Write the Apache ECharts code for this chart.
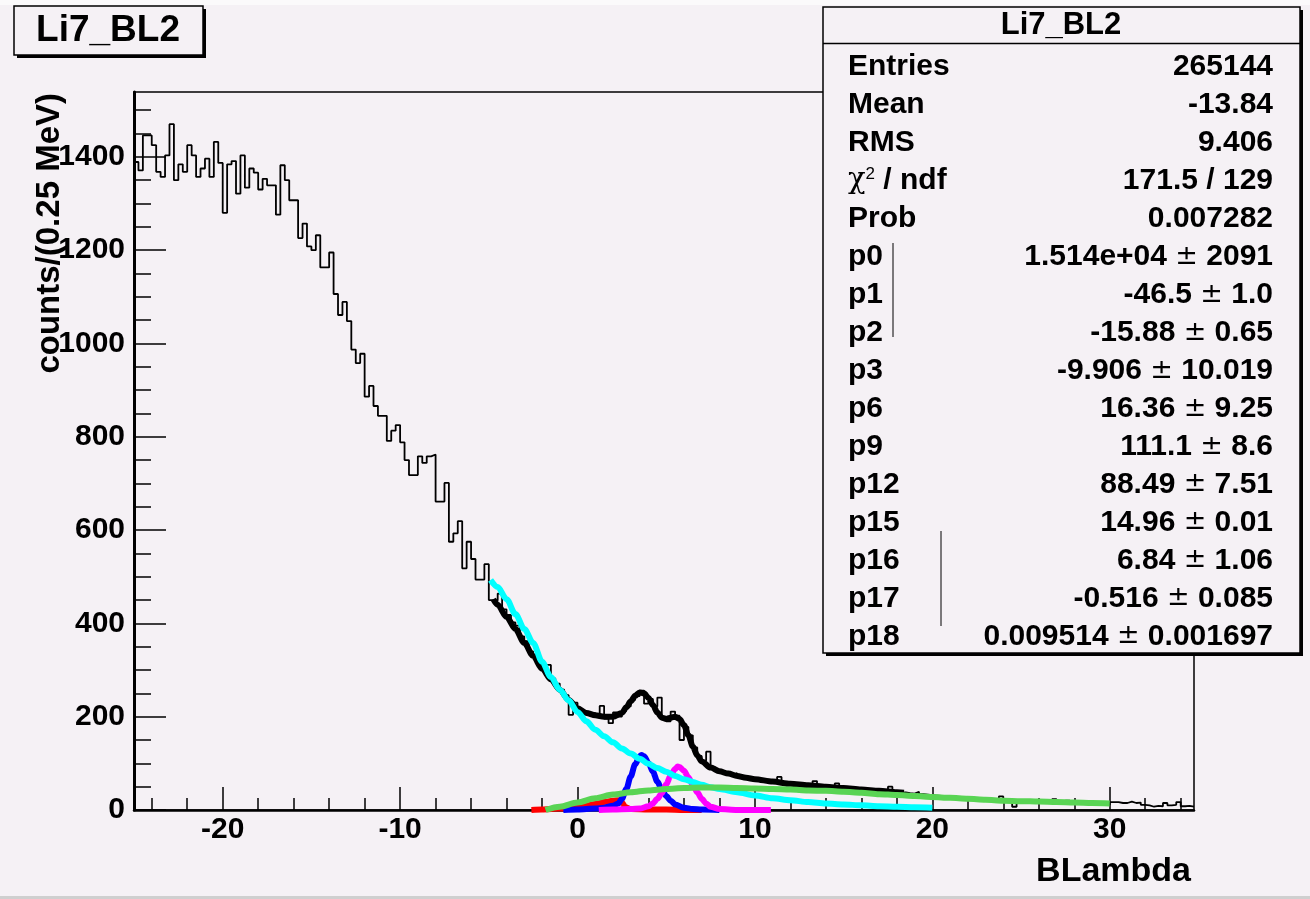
<!DOCTYPE html>
<html>
<head>
<meta charset="utf-8">
<script src="https://cdn.jsdelivr.net/npm/echarts@6.0.0/dist/echarts.min.js"></script>
<style>
  html, body { margin: 0; padding: 0; background: #f5f1f5; }
  #main { width: 1310px; height: 899px; }
</style>
</head>
<body>
<div id="main"></div>
<script>
// Li7_BL2 histogram, 0.25 MeV bins from -25 to 34.75
const binStart = -25;
const binWidth = 0.25;
const histCounts = [
  1389, 1371, 1446, 1446, 1425, 1368, 1357, 1403, 1470, 1350,
  1384, 1368, 1425, 1403, 1357, 1375, 1396, 1357, 1432, 1387,
  1280, 1384, 1391, 1321, 1403, 1334, 1375, 1366, 1330, 1353,
  1339, 1339, 1276, 1382, 1350, 1307, 1307, 1226, 1257, 1208,
  1200, 1232, 1163, 1163, 1195, 1106, 1061, 1089, 1048, 987,
  958, 978, 886, 909, 866, 845, 845, 791, 813, 825,
  788, 750, 718, 718, 758, 744, 758, 762, 661, 661,
  701, 575, 593, 619, 518, 575, 538, 494, 494, 527,
  450, 449, 464, 430, 418, 402, 395, 372, 362, 340,
  333, 318, 300, 311, 282, 271, 258, 246, 204, 230,
  216, 210, 205, 208, 200, 223, 196, 186, 209, 200,
  212, 222, 236, 244, 256, 228, 238, 222, 241, 198,
  190, 211, 202, 150, 178, 160, 134, 116, 106, 125,
  92, 86, 80, 82, 75, 79, 72, 70, 68, 67,
  64, 66, 62, 60, 63, 71, 58, 57, 55, 58,
  54, 53, 56, 62, 51, 50, 52, 49, 57, 47,
  46, 48, 45, 44, 46, 42, 43, 41, 40, 42,
  50, 40, 37, 38, 36, 35, 39, 34, 33, 32,
  31, 30, 28, 29, 27, 28, 26, 25, 26, 24,
  24, 23, 22, 21, 22, 29, 20, 19, 7, 18,
  17, 18, 16, 17, 16, 15, 16, 23, 15, 14,
  20, 14, 13, 18, 13, 12, 13, 12, 12, 11,
  17, 17, 15, 15, 18, 15, 16, 11, 10, 7,
  9, 8, 15, 10, 11, 17, 8, 9, 7
];

// fitted functions [x, counts]
const totalFit = [[-4.75,452],[-4.5,440],[-4,414],[-3.5,388],[-3,358],[-2.5,330],[-2,303],[-1.5,280],
  [-1,258],[-0.5,236],[0,218],[0.5,208],[1,203],[1.5,200],[2,200],[2.5,208],[2.75,220],[3,233],
  [3.25,245],[3.5,252],[3.75,250],[4,240],[4.25,225],[4.5,209],[4.75,198],[5,195],[5.25,198],
  [5.5,200],[5.75,195],[6,182],[6.25,160],[6.5,136],[6.75,117],[7,104],[7.5,91],[8,83],[8.5,78],
  [9,73],[9.5,69],[10,66],[11,61],[12,56],[13,53],[14,50],[15,47],[16,44],[17,41],[18,38],
  [18.4,37]];
const bgFit = [[-4.9,493],[-4.5,478],[-4,452],[-3.5,420],[-3,388],[-2.5,358],[-2,318],[-1.5,285],
  [-1,258],[-0.5,235],[0,210],[0.5,190],[1,172],[1.5,158],[2,145],[2.5,132],[3,121],[3.5,110],
  [4,99],[4.5,90],[5,82],[5.5,73],[6,66],[6.5,60],[7,54],[7.5,49],[8,45],[9,38],[10,31],[11,25],
  [12,21],[13,17],[14,14],[15,12],[16,10],[17,8],[18,7],[19,6],[20,5]];
const broadFit = [[-1.8,0],[-1,7],[0,16],[1,25],[2,33],[3,38],[4,42],[5,45],[6,47],[7,48],[8,48],
  [9,47],[10,46],[11,45],[12,44],[13,42],[14,41],[15,39],[16,37],[17,34],[18,32],[19,30],[20,28],
  [21,26],[22,24],[23,22],[24,20],[25,19],[26,18],[27,17],[28,16],[29,15],[30,14]];
const peakAFit = [[-0.8,0],[0,1],[1,3],[1.5,5],[2,9],[2.3,14],[2.5,24],[2.75,45],[3,72],[3.25,98],
  [3.5,115],[3.6,118],[3.75,115],[4,101],[4.25,82],[4.5,61],[4.75,44],[5,30],[5.25,20],[5.5,12],
  [6,5],[6.5,2],[7,1],[8,0]];
const peakBFit = [[1.2,0],[2,1],[3,2],[3.5,3],[4,8],[4.25,14],[4.5,24],[4.75,36],[5,55],[5.25,74],
  [5.5,88],[5.65,93],[5.75,92],[6,84],[6.25,70],[6.5,54],[6.75,38],[7,24],[7.25,14],[7.5,7],
  [8,2],[9,0],[10.9,0]];
const smallFit = [[-2.6,0],[-2,1],[-1,3],[0,6],[0.5,9],[1,13],[1.5,17],[2,20],[2.3,21],[2.5,16],
  [2.7,6],[3,2],[4,1],[5,1],[6,0],[7,0]];

const xLabelTicks = [-20, -10, 0, 10, 20, 30];
const xMinorTicks = [-24, -22, -18, -16, -14, -12, -8, -6, -4, -2, 2, 4, 6, 8, 12, 14, 16, 18, 22, 24, 26, 28, 32, 34];
const yLabelTicks = [0, 200, 400, 600, 800, 1000, 1200, 1400];
const yMinorTicks = [50, 100, 150, 250, 300, 350, 450, 500, 550, 650, 700, 750, 850, 900, 950,
  1050, 1100, 1150, 1250, 1300, 1350, 1450, 1500];

const statNames = ['Entries', 'Mean', 'RMS', 'chi', 'Prob', 'p0', 'p1', 'p2', 'p3', 'p6', 'p9',
  'p12', 'p15', 'p16', 'p17', 'p18'];
const statValues = ['265144', '-13.84', '9.406', '171.5 / 129', '0.007282', '1.514e+04', '-46.5',
  '-15.88', '-9.906', '16.36', '111.1', '88.49', '14.96', '6.84', '-0.516', '0.009514'];
const statErrors = ['', '', '', '', '', '2091', '1.0', '0.65', '10.019', '9.25', '8.6', '7.51',
  '0.01', '1.06', '0.085', '0.001697'];

const FONT = '"Liberation Sans", Arial, Helvetica, sans-serif';
const BG = '#f5f1f5';

var chart = echarts.init(document.getElementById('main'));

const histData = histCounts.map((c, k) => [binStart + k * binWidth, c]);
histData.push([binStart + histCounts.length * binWidth, histCounts[histCounts.length - 1]]);

function fitSeries(data, color, z) {
  return {
    type: 'line', data: data, symbol: 'none', smooth: 0.3, smoothMonotone: 'x',
    z: z, silent: true, animation: false,
    lineStyle: { color: color, width: 6 }
  };
}

// stats box rows
const rowY = (i) => 67 + 37.95 * i;
const statRich = {
  n: { fontFamily: FONT, fontWeight: 'bold', fontSize: 30, fill: '#000' },
  pm: { fontFamily: '"DejaVu Sans", sans-serif', fontWeight: 'normal', fontSize: 27, fill: '#000' },
  sym: { fontFamily: '"DejaVu Serif", serif', fontWeight: 'normal', fontSize: 29, fill: '#000' },
  sup: { fontFamily: FONT, fontWeight: 'normal', fontSize: 17, fill: '#000', verticalAlign: 'top' }
};
const statElements = [];
statNames.forEach((nm, i) => {
  const label = nm === 'chi' ? '{sym|χ}{sup|2}{n| / ndf}' : '{n|' + nm + '}';
  statElements.push({
    type: 'text', z: 102,
    style: { x: 848, y: rowY(i), text: label, align: 'left', verticalAlign: 'middle', rich: statRich }
  });
  const val = statErrors[i] ? '{n|' + statValues[i] + ' }{pm|±}{n| ' + statErrors[i] + '}' : '{n|' + statValues[i] + '}';
  statElements.push({
    type: 'text', z: 102,
    style: { x: 1273, y: rowY(i), text: val, align: 'right', verticalAlign: 'middle', rich: statRich }
  });
});

const plainLabel = (v) => String(v);

const option = {
  backgroundColor: BG,
  animation: false,
  textStyle: { fontFamily: FONT },
  grid: {
    left: 134, top: 92, width: 1060, height: 718,
    show: true, borderColor: '#000', borderWidth: 1.5, backgroundColor: 'transparent'
  },
  xAxis: [
    {
      type: 'value', min: -25, max: 34.75, position: 'bottom',
      axisLine: { show: true, onZero: false, lineStyle: { color: '#000', width: 2.5 } },
      axisTick: { show: true, inside: true, length: 23, customValues: xLabelTicks, lineStyle: { color: '#000', width: 1.5 } },
      axisLabel: { customValues: xLabelTicks, formatter: plainLabel, color: '#000', fontSize: 30, fontWeight: 'bold', margin: 5, fontFamily: FONT },
      splitLine: { show: false }
    },
    {
      type: 'value', min: -25, max: 34.75, position: 'bottom',
      axisLine: { show: false, onZero: false },
      axisTick: { show: true, inside: true, length: 12, customValues: xMinorTicks, lineStyle: { color: '#000', width: 1.5 } },
      axisLabel: { show: false },
      splitLine: { show: false }
    }
  ],
  yAxis: [
    {
      type: 'value', min: 0, max: 1539, position: 'left',
      axisLine: { show: true, onZero: false, lineStyle: { color: '#000', width: 3 } },
      axisTick: { show: true, inside: true, length: 32, customValues: yLabelTicks, lineStyle: { color: '#000', width: 1.5 } },
      axisLabel: { customValues: yLabelTicks, formatter: plainLabel, color: '#000', fontSize: 30, fontWeight: 'bold', margin: 9, fontFamily: FONT },
      splitLine: { show: false }
    },
    {
      type: 'value', min: 0, max: 1539, position: 'left',
      axisLine: { show: false, onZero: false },
      axisTick: { show: true, inside: true, length: 17, customValues: yMinorTicks, lineStyle: { color: '#000', width: 1.5 } },
      axisLabel: { show: false },
      splitLine: { show: false }
    }
  ],
  series: [
    {
      type: 'line', data: histData, step: 'end', symbol: 'none', z: 2, silent: true,
      lineStyle: { color: '#000', width: 1.8 }
    },
    fitSeries(totalFit, '#000000', 3),
    fitSeries(smallFit, '#ff0000', 4),
    fitSeries(peakAFit, '#0000ff', 5),
    fitSeries(peakBFit, '#ff00ff', 6),
    fitSeries(bgFit, '#00ffff', 7),
    fitSeries(broadFit, '#59d454', 8)
  ],
  graphic: {
    elements: [
      { type: 'rect', z: 90, shape: { x: 0, y: 0, width: 1310, height: 5 }, style: { fill: '#fbfafb' } },
      { type: 'rect', z: 90, shape: { x: 0, y: 896, width: 1310, height: 3 }, style: { fill: '#cfcfcf' } },
      // title box
      { type: 'rect', z: 99, shape: { x: 17, y: 9, width: 189, height: 49 }, style: { fill: '#000' } },
      { type: 'rect', z: 100, shape: { x: 14, y: 6, width: 189, height: 49 }, style: { fill: BG, stroke: '#000', lineWidth: 1.5 } },
      { type: 'text', z: 101, style: { x: 108, y: 31, text: 'Li7_BL2', align: 'center', verticalAlign: 'middle',
        font: 'bold 37px ' + FONT, fill: '#000' } },
      // stats box
      { type: 'rect', z: 99, shape: { x: 826, y: 10, width: 477, height: 646 }, style: { fill: '#000' } },
      { type: 'rect', z: 100, shape: { x: 823, y: 7, width: 477, height: 646 }, style: { fill: BG, stroke: '#000', lineWidth: 1.5 } },
      { type: 'line', z: 101, shape: { x1: 823, y1: 43.5, x2: 1300, y2: 43.5 }, style: { stroke: '#000', lineWidth: 1.5 } },
      { type: 'text', z: 101, style: { x: 1061, y: 25, text: 'Li7_BL2', align: 'center', verticalAlign: 'middle',
        font: 'bold 31px ' + FONT, fill: '#000' } },
      { type: 'line', z: 101, shape: { x1: 893, y1: 243, x2: 893, y2: 337 }, style: { stroke: '#000', lineWidth: 1 } },
      { type: 'line', z: 101, shape: { x1: 941, y1: 531, x2: 941, y2: 626 }, style: { stroke: '#000', lineWidth: 1 } },
      // axis titles
      { type: 'text', z: 101, x: 50, y: 93, rotation: Math.PI / 2,
        style: { x: 0, y: 0, text: 'counts/(0.25 MeV)', align: 'right', verticalAlign: 'middle',
          font: 'bold 33px ' + FONT, fill: '#000' } },
      { type: 'text', z: 101, style: { x: 1191, y: 872, text: 'BLambda', align: 'right', verticalAlign: 'middle',
        font: 'bold 34px ' + FONT, fill: '#000' } }
    ].concat(statElements)
  }
};

chart.setOption(option);
</script>
</body>
</html>
